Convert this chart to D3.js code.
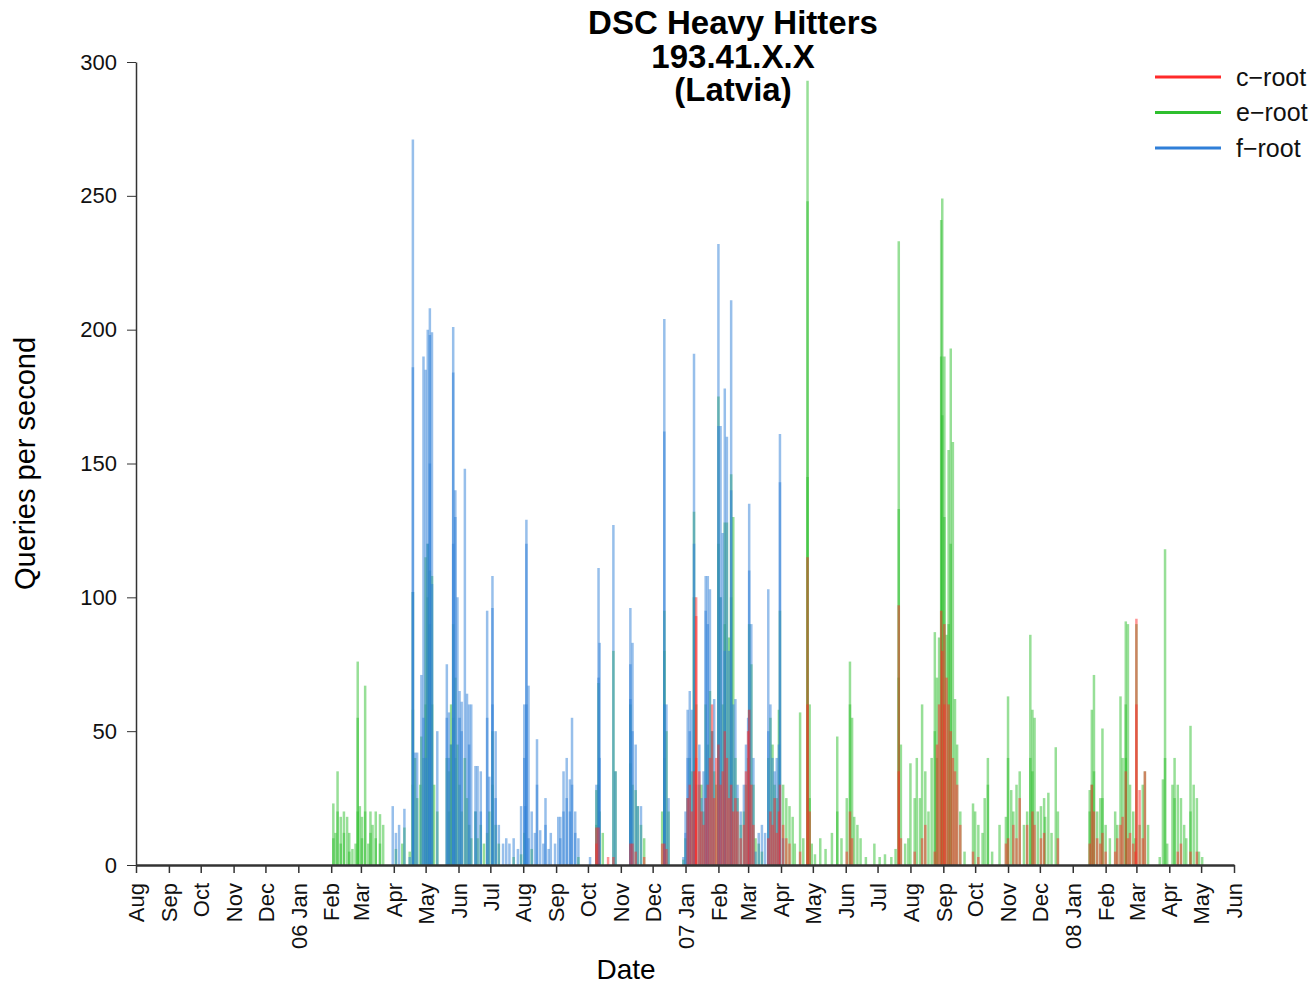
<!DOCTYPE html>
<html>
<head>
<meta charset="utf-8">
<script src="https://cdn.jsdelivr.net/npm/d3@7"></script>
<style>
  body { margin: 0; background: #fff; }
  text { font-family: "Liberation Sans", Arial, sans-serif; }
  .axis path, .axis line { stroke: #333; }
</style>
</head>
<body>
<div id="chart"></div>
<script>
// samples: [date, queries per second] -- several samples on one day overlap
const cRoot = [
  ["2006-10-09", 14], ["2006-10-09", 8], ["2006-10-11", 14], ["2006-10-20", 3], ["2006-10-25", 3],
  ["2006-11-10", 8], ["2006-11-12", 8], ["2006-11-15", 5], ["2006-11-23", 3],
  ["2006-12-10", 8], ["2006-12-12", 8], ["2006-12-14", 6],
  ["2007-01-03", 25], ["2007-01-05", 30], ["2007-01-07", 20], ["2007-01-09", 35],
  ["2007-01-11", 100], ["2007-01-11", 93], ["2007-01-11", 40], ["2007-01-14", 35], ["2007-01-16", 20],
  ["2007-01-18", 15], ["2007-01-20", 25], ["2007-01-22", 30], ["2007-01-24", 40], ["2007-01-26", 60],
  ["2007-01-28", 25], ["2007-01-30", 40],
  ["2007-02-01", 45], ["2007-02-03", 30], ["2007-02-05", 35], ["2007-02-07", 50], ["2007-02-09", 40],
  ["2007-02-11", 25], ["2007-02-13", 30], ["2007-02-15", 20], ["2007-02-17", 25], ["2007-02-19", 20],
  ["2007-02-22", 10], ["2007-02-25", 15], ["2007-02-27", 35],
  ["2007-03-01", 50], ["2007-03-02", 58], ["2007-03-04", 30], ["2007-03-06", 15],
  ["2007-03-20", 10], ["2007-03-22", 20], ["2007-03-24", 15], ["2007-03-26", 25], ["2007-03-28", 12],
  ["2007-03-30", 20], ["2007-03-31", 30], ["2007-04-03", 15], ["2007-04-06", 10], ["2007-04-09", 8],
  ["2007-04-19", 5], ["2007-04-26", 115], ["2007-04-26", 60], ["2007-04-28", 20],
  ["2007-06-02", 5], ["2007-06-05", 20], ["2007-06-07", 10],
  ["2007-07-21", 97], ["2007-07-21", 35], ["2007-07-23", 10],
  ["2007-08-05", 5], ["2007-08-12", 10], ["2007-08-15", 15], ["2007-08-24", 5], ["2007-08-26", 45],
  ["2007-08-28", 60], ["2007-08-30", 95], ["2007-08-31", 80], ["2007-09-02", 90], ["2007-09-02", 60],
  ["2007-09-04", 70], ["2007-09-06", 60], ["2007-09-08", 50], ["2007-09-10", 40], ["2007-09-12", 35],
  ["2007-09-14", 30], ["2007-09-17", 15],
  ["2007-09-29", 5], ["2007-10-04", 3], ["2007-10-30", 8], ["2007-11-01", 10], ["2007-11-06", 15],
  ["2007-11-09", 10], ["2007-11-12", 25], ["2007-11-19", 15], ["2007-11-24", 20], ["2007-11-26", 15],
  ["2007-12-02", 10], ["2007-12-05", 12], ["2007-12-18", 10],
  ["2008-01-17", 8], ["2008-01-19", 30], ["2008-01-21", 20], ["2008-01-24", 10], ["2008-01-27", 8],
  ["2008-01-29", 12], ["2008-02-01", 5], ["2008-02-10", 5], ["2008-02-12", 10], ["2008-02-15", 15],
  ["2008-02-17", 18], ["2008-02-20", 35], ["2008-02-22", 10], ["2008-02-24", 12], ["2008-02-27", 8],
  ["2008-02-29", 5], ["2008-03-01", 92], ["2008-03-01", 60], ["2008-03-04", 28], ["2008-03-07", 10],
  ["2008-03-09", 35], ["2008-04-09", 5], ["2008-04-12", 8], ["2008-04-21", 5], ["2008-04-27", 5]
];

const eRoot = [
  ["2006-02-03", 23], ["2006-02-03", 10], ["2006-02-05", 12], ["2006-02-07", 35], ["2006-02-07", 20],
  ["2006-02-10", 18], ["2006-02-10", 8], ["2006-02-13", 20], ["2006-02-13", 12], ["2006-02-16", 18],
  ["2006-02-18", 12], ["2006-02-18", 5], ["2006-02-21", 6], ["2006-02-24", 8],
  ["2006-02-26", 76], ["2006-02-26", 55], ["2006-02-26", 20], ["2006-02-28", 22],
  ["2006-03-02", 18], ["2006-03-02", 10], ["2006-03-05", 67], ["2006-03-05", 20], ["2006-03-08", 8],
  ["2006-03-10", 20], ["2006-03-10", 12], ["2006-03-12", 15], ["2006-03-15", 20], ["2006-03-15", 10],
  ["2006-03-19", 19], ["2006-03-19", 8], ["2006-03-22", 15],
  ["2006-04-03", 6], ["2006-04-09", 8], ["2006-04-11", 14], ["2006-04-16", 5],
  ["2006-04-19", 102], ["2006-04-19", 58], ["2006-04-19", 30], ["2006-04-21", 40], ["2006-04-23", 25],
  ["2006-04-26", 30], ["2006-04-27", 48], ["2006-04-29", 40],
  ["2006-05-01", 115], ["2006-05-01", 60], ["2006-05-03", 120], ["2006-05-03", 100], ["2006-05-05", 110],
  ["2006-05-05", 90], ["2006-05-07", 108], ["2006-05-07", 60], ["2006-05-09", 30], ["2006-05-12", 20],
  ["2006-05-21", 40], ["2006-05-23", 35], ["2006-05-23", 20], ["2006-05-25", 60], ["2006-05-25", 45],
  ["2006-05-27", 90], ["2006-05-27", 55], ["2006-05-29", 70], ["2006-05-29", 40], ["2006-05-31", 45],
  ["2006-06-02", 30], ["2006-06-04", 20], ["2006-06-07", 40], ["2006-06-09", 25], ["2006-06-11", 15],
  ["2006-06-13", 10], ["2006-06-17", 20], ["2006-06-19", 10], ["2006-06-22", 15], ["2006-06-25", 8],
  ["2006-06-28", 12], ["2006-06-30", 20], ["2006-07-03", 50], ["2006-07-03", 30], ["2006-07-06", 15],
  ["2006-07-09", 8], ["2006-07-23", 3], ["2006-07-30", 4], ["2006-08-02", 12], ["2006-08-09", 6],
  ["2006-09-22", 3],
  ["2006-10-09", 28], ["2006-10-09", 15], ["2006-10-11", 68], ["2006-10-11", 30], ["2006-10-12", 20],
  ["2006-10-15", 12], ["2006-10-25", 80], ["2006-10-27", 35],
  ["2006-11-10", 60], ["2006-11-10", 38], ["2006-11-12", 30], ["2006-11-15", 28], ["2006-11-17", 22],
  ["2006-11-20", 15], ["2006-11-23", 10],
  ["2006-12-10", 20], ["2006-12-12", 95], ["2006-12-12", 80], ["2006-12-12", 40], ["2006-12-14", 50],
  ["2006-12-16", 20], ["2006-12-30", 2],
  ["2007-01-01", 10], ["2007-01-03", 25], ["2007-01-05", 40], ["2007-01-07", 35], ["2007-01-09", 132],
  ["2007-01-09", 100], ["2007-01-11", 60], ["2007-01-14", 30], ["2007-01-16", 30], ["2007-01-18", 20],
  ["2007-01-20", 60], ["2007-01-22", 45], ["2007-01-24", 65], ["2007-01-26", 50], ["2007-01-28", 35],
  ["2007-01-30", 30],
  ["2007-02-01", 175], ["2007-02-01", 120], ["2007-02-03", 100], ["2007-02-05", 60], ["2007-02-07", 128],
  ["2007-02-07", 90], ["2007-02-09", 128], ["2007-02-11", 85], ["2007-02-13", 146], ["2007-02-13", 100],
  ["2007-02-15", 130], ["2007-02-17", 40], ["2007-02-19", 25], ["2007-02-22", 15], ["2007-02-25", 20],
  ["2007-02-27", 30],
  ["2007-03-01", 40], ["2007-03-02", 90], ["2007-03-02", 58], ["2007-03-04", 75], ["2007-03-06", 30],
  ["2007-03-08", 10], ["2007-03-11", 8], ["2007-03-14", 5], ["2007-03-20", 40], ["2007-03-22", 55],
  ["2007-03-24", 45], ["2007-03-26", 30], ["2007-03-28", 25], ["2007-03-30", 58], ["2007-03-31", 95],
  ["2007-04-03", 30], ["2007-04-06", 25], ["2007-04-09", 22], ["2007-04-12", 18], ["2007-04-14", 8],
  ["2007-04-19", 57], ["2007-04-22", 10],
  ["2007-04-26", 293], ["2007-04-26", 248], ["2007-04-26", 145], ["2007-04-28", 60], ["2007-04-28", 25],
  ["2007-04-30", 8], ["2007-05-03", 4], ["2007-05-08", 10], ["2007-05-13", 6], ["2007-05-19", 12],
  ["2007-05-24", 48], ["2007-05-24", 20], ["2007-05-28", 10],
  ["2007-06-02", 25], ["2007-06-05", 76], ["2007-06-05", 60], ["2007-06-07", 55], ["2007-06-09", 18],
  ["2007-06-12", 15], ["2007-06-15", 10], ["2007-06-20", 3], ["2007-06-28", 8],
  ["2007-07-03", 3], ["2007-07-08", 4], ["2007-07-14", 3], ["2007-07-18", 6],
  ["2007-07-21", 233], ["2007-07-21", 133], ["2007-07-21", 70], ["2007-07-23", 45], ["2007-07-27", 8],
  ["2007-07-30", 10],
  ["2007-08-01", 38], ["2007-08-05", 25], ["2007-08-07", 40], ["2007-08-10", 25], ["2007-08-12", 60],
  ["2007-08-15", 35], ["2007-08-18", 20], ["2007-08-21", 40], ["2007-08-24", 87], ["2007-08-24", 50],
  ["2007-08-26", 70], ["2007-08-26", 40], ["2007-08-28", 85], ["2007-08-30", 241], ["2007-08-30", 190],
  ["2007-08-31", 249], ["2007-08-31", 168], ["2007-09-02", 190], ["2007-09-02", 130], ["2007-09-04", 86],
  ["2007-09-06", 155], ["2007-09-06", 90], ["2007-09-08", 193], ["2007-09-08", 120], ["2007-09-10", 158],
  ["2007-09-12", 62], ["2007-09-14", 45], ["2007-09-17", 20], ["2007-09-21", 5],
  ["2007-09-29", 23], ["2007-10-01", 20], ["2007-10-04", 15], ["2007-10-08", 12], ["2007-10-10", 25],
  ["2007-10-13", 40], ["2007-10-13", 30], ["2007-10-17", 5], ["2007-10-24", 15],
  ["2007-10-30", 18], ["2007-11-01", 63], ["2007-11-01", 40], ["2007-11-04", 28], ["2007-11-06", 20],
  ["2007-11-09", 30], ["2007-11-12", 35], ["2007-11-16", 15], ["2007-11-19", 20], ["2007-11-22", 86],
  ["2007-11-22", 40], ["2007-11-24", 58], ["2007-11-24", 35], ["2007-11-26", 55], ["2007-11-29", 20],
  ["2007-12-02", 22], ["2007-12-05", 25], ["2007-12-06", 18], ["2007-12-09", 27], ["2007-12-12", 12],
  ["2007-12-16", 44], ["2007-12-18", 20],
  ["2008-01-17", 28], ["2008-01-17", 20], ["2008-01-19", 58], ["2008-01-19", 30], ["2008-01-21", 71],
  ["2008-01-21", 35], ["2008-01-24", 20], ["2008-01-27", 25], ["2008-01-29", 51], ["2008-01-29", 25],
  ["2008-02-01", 15], ["2008-02-05", 10], ["2008-02-10", 20], ["2008-02-12", 15], ["2008-02-15", 63],
  ["2008-02-17", 40], ["2008-02-20", 91], ["2008-02-20", 60], ["2008-02-20", 40], ["2008-02-22", 90],
  ["2008-02-24", 30], ["2008-02-27", 20], ["2008-02-29", 10], ["2008-03-01", 90], ["2008-03-04", 15],
  ["2008-03-07", 30], ["2008-03-09", 35], ["2008-03-12", 15], ["2008-03-23", 3], ["2008-03-26", 32],
  ["2008-03-28", 118], ["2008-03-28", 40], ["2008-03-30", 8], ["2008-04-04", 30], ["2008-04-06", 40],
  ["2008-04-06", 25], ["2008-04-09", 30], ["2008-04-12", 25], ["2008-04-15", 15], ["2008-04-17", 10],
  ["2008-04-21", 52], ["2008-04-21", 20], ["2008-04-24", 30], ["2008-04-27", 25], ["2008-04-29", 5],
  ["2008-05-02", 3]
];

const fRoot = [
  ["2006-03-31", 22], ["2006-04-03", 12], ["2006-04-06", 15], ["2006-04-11", 21], ["2006-04-16", 3],
  ["2006-04-19", 271], ["2006-04-19", 186], ["2006-04-19", 102], ["2006-04-21", 42], ["2006-04-23", 42],
  ["2006-04-27", 71], ["2006-04-29", 190], ["2006-04-29", 55],
  ["2006-05-01", 185], ["2006-05-01", 40], ["2006-05-03", 200], ["2006-05-03", 120], ["2006-05-05", 208],
  ["2006-05-05", 198], ["2006-05-05", 150], ["2006-05-07", 199], ["2006-05-07", 105], ["2006-05-12", 50],
  ["2006-05-21", 75], ["2006-05-21", 55], ["2006-05-23", 57], ["2006-05-23", 40], ["2006-05-25", 45],
  ["2006-05-27", 201], ["2006-05-27", 184], ["2006-05-27", 120], ["2006-05-29", 140], ["2006-05-29", 130],
  ["2006-05-31", 100],
  ["2006-06-02", 65], ["2006-06-02", 55], ["2006-06-04", 61], ["2006-06-04", 50], ["2006-06-07", 148],
  ["2006-06-09", 64], ["2006-06-11", 60], ["2006-06-11", 45], ["2006-06-13", 60], ["2006-06-17", 37],
  ["2006-06-17", 20], ["2006-06-19", 37], ["2006-06-22", 35], ["2006-06-22", 20], ["2006-06-28", 95],
  ["2006-06-28", 55], ["2006-06-30", 33],
  ["2006-07-03", 108], ["2006-07-03", 96], ["2006-07-03", 60], ["2006-07-06", 50], ["2006-07-06", 25],
  ["2006-07-09", 15], ["2006-07-13", 8], ["2006-07-16", 10], ["2006-07-19", 8], ["2006-07-23", 10],
  ["2006-07-27", 6], ["2006-07-30", 22],
  ["2006-08-02", 60], ["2006-08-02", 40], ["2006-08-03", 22], ["2006-08-04", 129], ["2006-08-04", 120],
  ["2006-08-04", 60], ["2006-08-06", 67], ["2006-08-06", 10], ["2006-08-09", 20], ["2006-08-12", 12],
  ["2006-08-14", 47], ["2006-08-14", 30], ["2006-08-17", 13], ["2006-08-20", 8], ["2006-08-22", 25],
  ["2006-08-22", 15], ["2006-08-25", 6], ["2006-08-27", 12], ["2006-08-31", 8],
  ["2006-09-03", 18], ["2006-09-05", 18], ["2006-09-05", 10], ["2006-09-08", 35], ["2006-09-08", 20],
  ["2006-09-11", 40], ["2006-09-11", 25], ["2006-09-14", 32], ["2006-09-14", 20], ["2006-09-16", 55],
  ["2006-09-16", 30], ["2006-09-19", 20], ["2006-09-19", 12], ["2006-09-22", 10], ["2006-10-03", 3],
  ["2006-10-09", 30], ["2006-10-11", 111], ["2006-10-11", 70], ["2006-10-12", 83], ["2006-10-12", 40],
  ["2006-10-25", 127], ["2006-10-27", 35],
  ["2006-11-10", 96], ["2006-11-10", 75], ["2006-11-10", 62], ["2006-11-12", 83], ["2006-11-12", 50],
  ["2006-11-15", 45], ["2006-11-17", 22], ["2006-11-20", 22],
  ["2006-12-12", 204], ["2006-12-12", 162], ["2006-12-12", 60], ["2006-12-14", 60], ["2006-12-16", 25],
  ["2006-12-30", 3],
  ["2007-01-01", 20], ["2007-01-01", 12], ["2007-01-03", 58], ["2007-01-03", 40], ["2007-01-05", 65],
  ["2007-01-05", 50], ["2007-01-07", 58], ["2007-01-09", 191], ["2007-01-09", 120], ["2007-01-11", 30],
  ["2007-01-14", 45], ["2007-01-16", 25], ["2007-01-18", 35], ["2007-01-20", 108], ["2007-01-20", 95],
  ["2007-01-22", 108], ["2007-01-22", 90], ["2007-01-24", 103], ["2007-01-26", 50], ["2007-01-28", 62],
  ["2007-02-01", 232], ["2007-02-01", 164], ["2007-02-03", 164], ["2007-02-03", 100], ["2007-02-05", 124],
  ["2007-02-07", 178], ["2007-02-07", 80], ["2007-02-09", 160], ["2007-02-11", 80], ["2007-02-13", 211],
  ["2007-02-13", 140], ["2007-02-15", 60], ["2007-02-17", 62], ["2007-02-19", 30], ["2007-02-22", 20],
  ["2007-02-25", 30], ["2007-02-27", 45],
  ["2007-03-01", 55], ["2007-03-02", 135], ["2007-03-02", 110], ["2007-03-04", 90], ["2007-03-06", 40],
  ["2007-03-08", 5], ["2007-03-11", 12], ["2007-03-14", 15], ["2007-03-17", 12], ["2007-03-20", 103],
  ["2007-03-20", 50], ["2007-03-22", 60], ["2007-03-24", 40], ["2007-03-26", 35], ["2007-03-28", 40],
  ["2007-03-30", 45], ["2007-03-31", 161], ["2007-03-31", 143], ["2007-04-03", 10]
];

const seriesNames = ["c\u2212root", "e\u2212root", "f\u2212root"];
const seriesColors = ["#ff2a2a", "#2fbf2f", "#2f7fd8"];
const titleLines = ["DSC Heavy Hitters", "193.41.X.X", "(Latvia)"];
const yTicks = [0, 50, 100, 150, 200, 250, 300];

const width = 1315,
      height = 987,
      margin = { top: 62, right: 81, bottom: 122, left: 136 };

const parseDate = d3.timeParse("%Y-%m-%d");

const svg = d3.select("#chart")
  .append("svg")
  .attr("width", width)
  .attr("height", height);

const x = d3.scaleTime()
  .domain([parseDate("2005-08-01"), parseDate("2008-06-01")])
  .range([margin.left, width - margin.right]);

const y = d3.scaleLinear()
  .domain([0, 300])
  .range([height - margin.bottom, margin.top]);

// spikes, one thin translucent line per sample (green under, blue, red on top)
const seriesData = [cRoot, eRoot, fRoot];
[1, 2, 0].forEach(i => {
  svg.append("g")
    .selectAll("line")
    .data(seriesData[i])
    .enter()
    .append("line")
    .attr("x1", d => x(parseDate(d[0])))
    .attr("x2", d => x(parseDate(d[0])))
    .attr("y1", y(0))
    .attr("y2", d => y(d[1]))
    .attr("stroke", seriesColors[i])
    .attr("stroke-width", 2.5)
    .attr("stroke-opacity", 0.5);
});

// axes
const yAxis = d3.axisLeft(y)
  .tickValues(yTicks)
  .tickSize(9)
  .tickPadding(10)
  .tickSizeOuter(0);

svg.append("g")
  .attr("class", "axis")
  .attr("transform", "translate(" + margin.left + ",0)")
  .call(yAxis)
  .call(g => g.select(".domain").attr("stroke-width", 1.5))
  .selectAll("text")
  .attr("font-size", 22)
  .attr("fill", "#111");

const monthFmt = d3.timeFormat("%b"),
      yearFmt = d3.timeFormat("%y");

const xAxis = d3.axisBottom(x)
  .ticks(d3.timeMonth.every(1))
  .tickFormat(d => d.getMonth() === 0 ? yearFmt(d) + " Jan" : monthFmt(d))
  .tickSize(8)
  .tickSizeOuter(0);

svg.append("g")
  .attr("class", "axis")
  .attr("transform", "translate(0," + y(0) + ")")
  .call(xAxis)
  .call(g => g.select(".domain").attr("stroke-width", 2.5).attr("stroke", "#444"))
  .call(g => g.selectAll(".tick line").attr("stroke-width", 1.5))
  .selectAll("text")
  .attr("font-size", 22)
  .attr("fill", "#111")
  .attr("text-anchor", "end")
  .attr("transform", "rotate(-90)")
  .attr("x", -18)
  .attr("y", 0)
  .attr("dy", "0.35em");

// title
svg.append("g")
  .selectAll("text")
  .data(titleLines)
  .enter()
  .append("text")
  .attr("x", 733)
  .attr("y", (d, i) => 34 + i * 33.5)
  .attr("text-anchor", "middle")
  .attr("font-size", 33)
  .attr("font-weight", "bold")
  .attr("fill", "#000")
  .text(d => d);

// axis titles
svg.append("text")
  .attr("transform", "translate(35," + ((margin.top + height - margin.bottom) / 2) + ") rotate(-90)")
  .attr("text-anchor", "middle")
  .attr("font-size", 29)
  .attr("fill", "#000")
  .text("Queries per second");

svg.append("text")
  .attr("x", 626)
  .attr("y", 979)
  .attr("text-anchor", "middle")
  .attr("font-size", 28)
  .attr("fill", "#000")
  .text("Date");

// legend
const legend = svg.append("g")
  .selectAll("g")
  .data(seriesNames)
  .enter()
  .append("g")
  .attr("transform", (d, i) => "translate(1155," + (77 + i * 35.5) + ")");

legend.append("line")
  .attr("x1", 0)
  .attr("x2", 66)
  .attr("stroke", (d, i) => seriesColors[i])
  .attr("stroke-width", 3);

legend.append("text")
  .attr("x", 81)
  .attr("dy", "0.35em")
  .attr("font-size", 25)
  .attr("fill", "#111")
  .text(d => d);
</script>
</body>
</html>
